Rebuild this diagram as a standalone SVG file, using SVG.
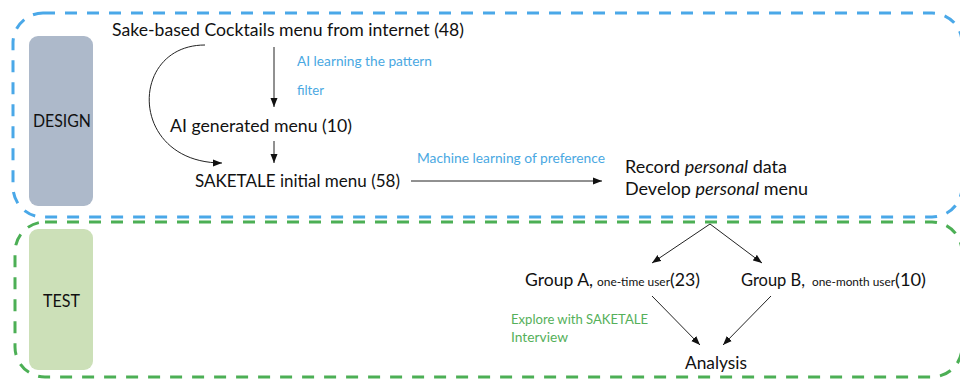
<svg xmlns="http://www.w3.org/2000/svg" width="960" height="379" viewBox="0 0 960 379">
<style>
text{font-family:Lato,"Open Sans","Liberation Sans",sans-serif;fill:#111}
.big{font-size:18px}
.sm{font-size:12px}
.blue{font-size:13px;fill:#4aa8e2}
.green{font-size:13px;fill:#55b05a}
.lbl{font-size:17px}
.conn{stroke:#222;stroke-width:1;fill:none;marker-end:url(#ah)}
</style>
<defs>
<marker id="ah" markerUnits="userSpaceOnUse" markerWidth="10" markerHeight="8" refX="9" refY="4" orient="auto">
<path d="M0,0.5 L9,4 L0,7.5 Z" fill="#111"/>
</marker>
</defs>
<rect width="960" height="379" fill="#fff"/>
<g id="design-frame">
<rect x="13" y="13" width="949" height="204" rx="30" fill="none" stroke="#4aa8e8" stroke-width="3" stroke-dasharray="12 10"/>
</g>
<g id="test-frame">
<rect x="15" y="222" width="947" height="155" rx="30" fill="none" stroke="#4caf55" stroke-width="3" stroke-dasharray="12 10"/>
</g>
<g id="design">
<rect x="29" y="36" width="64" height="170" rx="9" fill="#adb9ca"/>
<text class="lbl" x="33" y="127" textLength="58" lengthAdjust="spacingAndGlyphs">DESIGN</text>
</g>
<g id="test">
<rect x="29" y="229" width="64" height="141" rx="9" fill="#cce0b8"/>
<text class="lbl" x="43" y="307" textLength="37" lengthAdjust="spacingAndGlyphs">TEST</text>
</g>
<g id="source">
<text class="big" x="112" y="36" textLength="352" lengthAdjust="spacingAndGlyphs">Sake-based Cocktails menu from internet (48)</text>
</g>
<g id="ai-menu">
<text class="big" x="170" y="132" textLength="182" lengthAdjust="spacingAndGlyphs">AI generated menu (10)</text>
</g>
<g id="initial-menu">
<text class="big" x="195" y="187" textLength="205" lengthAdjust="spacingAndGlyphs">SAKETALE initial menu (58)</text>
</g>
<g id="personal">
<text class="big" x="625" y="173" textLength="162" lengthAdjust="spacingAndGlyphs">Record <tspan font-style="italic">personal</tspan> data</text>
<text class="big" x="625" y="195" textLength="183" lengthAdjust="spacingAndGlyphs">Develop <tspan font-style="italic">personal</tspan> menu</text>
</g>
<g id="group-a">
<text class="big" x="525" y="286" textLength="68" lengthAdjust="spacingAndGlyphs">Group A,</text>
<text class="sm" x="597" y="286" textLength="73" lengthAdjust="spacingAndGlyphs">one-time user</text>
<text class="big" x="670" y="286" textLength="30" lengthAdjust="spacingAndGlyphs">(23)</text>
</g>
<g id="group-b">
<text class="big" x="741" y="286" textLength="64" lengthAdjust="spacingAndGlyphs">Group B,</text>
<text class="sm" x="812" y="286" textLength="83" lengthAdjust="spacingAndGlyphs">one-month user</text>
<text class="big" x="895" y="286" textLength="31" lengthAdjust="spacingAndGlyphs">(10)</text>
</g>
<g id="analysis">
<text class="big" x="685" y="369" textLength="62" lengthAdjust="spacingAndGlyphs">Analysis</text>
</g>
<g id="connectors">
<line class="conn" x1="274" y1="47" x2="274" y2="107"/>
<line class="conn" x1="274" y1="141" x2="274" y2="163"/>
<path class="conn" d="M205,45 C128,45 128,163 222,163"/>
<line class="conn" x1="411" y1="181" x2="602" y2="181"/>
<line class="conn" x1="710" y1="224" x2="652" y2="263"/>
<line class="conn" x1="710" y1="224" x2="762" y2="263"/>
<line class="conn" x1="652" y1="296" x2="700" y2="345"/>
<line class="conn" x1="771" y1="296" x2="723" y2="345"/>
<text class="blue" x="297" y="66" textLength="135" lengthAdjust="spacingAndGlyphs">AI learning the pattern</text>
<text class="blue" x="297" y="95" textLength="27" lengthAdjust="spacingAndGlyphs">filter</text>
<text class="blue" x="417" y="163" textLength="188" lengthAdjust="spacingAndGlyphs">Machine learning of preference</text>
<text class="green" x="511" y="324" textLength="137" lengthAdjust="spacingAndGlyphs">Explore with SAKETALE</text>
<text class="green" x="511" y="342" textLength="57" lengthAdjust="spacingAndGlyphs">Interview</text>
</g>
</svg>
